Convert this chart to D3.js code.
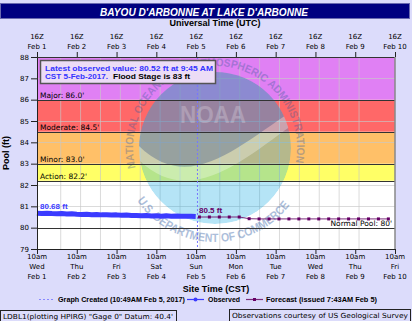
<!DOCTYPE html>
<meta charset="utf-8">
<style>
	body { margin: 0; background: #dcdcfb; }
	svg { display: block; }
	.tick text { font: 7px "DejaVu Sans"; fill: #000; }
	.lab { font: 7px "DejaVu Sans"; fill: #000; }
	.bold { font-family: "Liberation Sans"; font-weight: bold; }
	.grid line { stroke: rgba(200,200,200,0.65); stroke-width: 1; }
</style>
<body>
<script src="https://cdn.jsdelivr.net/npm/d3@7"></script>
<script>
var width = 412, height = 321;
var margin = {top: 57, right: 17, bottom: 72, left: 37};

var parse = d3.utcParse("%Y-%m-%d %H:%M");

// flood categories
var stageNames = ["Action", "Minor", "Moderate", "Major"];
var stageLevels = [82.2, 83.0, 84.5, 86.0];
var normalPool = 80;

// axis labels (CST site time below, UTC above)
var dayStart = ["2017-02-01 10:00", "2017-02-02 10:00", "2017-02-03 10:00", "2017-02-04 10:00", "2017-02-05 10:00",
                "2017-02-06 10:00", "2017-02-07 10:00", "2017-02-08 10:00", "2017-02-09 10:00", "2017-02-10 10:00"];
var weekDays = ["Wed", "Thu", "Fri", "Sat", "Sun", "Mon", "Tue", "Wed", "Thu", "Fri"];
var dayLabels = ["Feb 1", "Feb 2", "Feb 3", "Feb 4", "Feb 5", "Feb 6", "Feb 7", "Feb 8", "Feb 9", "Feb 10"];
var yTicks = [79, 80, 81, 82, 83, 84, 85, 86, 87, 88];

// observed (CST)
var obsTime = ["2017-02-01 10:00", "2017-02-01 13:00", "2017-02-01 16:00", "2017-02-01 19:00", "2017-02-01 22:00",
               "2017-02-02 01:00", "2017-02-02 04:00", "2017-02-02 07:00", "2017-02-02 10:00", "2017-02-02 13:00",
               "2017-02-02 16:00", "2017-02-02 19:00", "2017-02-02 22:00", "2017-02-03 01:00", "2017-02-03 04:00",
               "2017-02-03 07:00", "2017-02-03 10:00", "2017-02-03 13:00", "2017-02-03 16:00", "2017-02-03 19:00",
               "2017-02-03 22:00", "2017-02-04 01:00", "2017-02-04 04:00", "2017-02-04 07:00", "2017-02-04 10:00",
               "2017-02-04 13:00", "2017-02-04 16:00", "2017-02-04 19:00", "2017-02-04 22:00", "2017-02-05 01:00",
               "2017-02-05 04:00", "2017-02-05 07:00", "2017-02-05 09:45"];
var obsStage = [80.68, 80.66, 80.68, 80.66, 80.65, 80.66, 80.64, 80.65, 80.63, 80.62,
                80.63, 80.61, 80.62, 80.60, 80.61, 80.59, 80.60, 80.58, 80.59, 80.57,
                80.57, 80.56, 80.57, 80.55, 80.56, 80.54, 80.56, 80.54, 80.55, 80.53,
                80.54, 80.53, 80.52];

// forecast (CST)
var fcstTime = ["2017-02-05 12:00", "2017-02-05 18:00", "2017-02-06 00:00", "2017-02-06 06:00", "2017-02-06 12:00",
                "2017-02-06 18:00", "2017-02-07 00:00", "2017-02-07 06:00", "2017-02-07 12:00", "2017-02-07 18:00",
                "2017-02-08 00:00", "2017-02-08 06:00", "2017-02-08 12:00", "2017-02-08 18:00", "2017-02-09 00:00",
                "2017-02-09 06:00", "2017-02-09 12:00", "2017-02-09 18:00", "2017-02-10 00:00", "2017-02-10 06:00"];
var fcstStage = [80.5, 80.5, 80.5, 80.5, 80.5, 80.42, 80.41, 80.41, 80.41, 80.41,
                 80.41, 80.41, 80.41, 80.41, 80.41, 80.41, 80.41, 80.41, 80.41, 80.41];

var createdTime = "2017-02-05 10:49";

var bandColors = ["#ffff66", "#ffc068", "#ff6868", "#e080f4"];

var x = d3.scaleUtc()
    .domain([parse(dayStart[0]), parse(dayStart[9])])
    .range([margin.left, width - margin.right]);
var y = d3.scaleLinear()
    .domain([79, 88])
    .range([height - margin.bottom, margin.top]);

var svg = d3.select("body").append("svg")
    .attr("width", width)
    .attr("height", height);

// title bar
svg.append("rect")
    .attr("x", 0.5).attr("y", 3.5).attr("width", 409).attr("height", 15)
    .attr("fill", "#000080").attr("stroke", "#6a6ab0");
svg.append("text")
    .attr("x", 204).attr("y", 15.5)
    .attr("text-anchor", "middle")
    .attr("class", "bold")
    .style("font-size", "11px").style("font-style", "italic")
    .attr("fill", "#fff")
    .attr("textLength", 208).attr("lengthAdjust", "spacingAndGlyphs")
    .text("BAYOU D'ARBONNE AT LAKE D'ARBONNE");
svg.append("text")
    .attr("x", 215).attr("y", 26)
    .attr("text-anchor", "middle").attr("class", "bold")
    .style("font-size", "9px")
    .text("Universal Time (UTC)");

// plot background + flood bands
var x0 = x.range()[0], x1 = x.range()[1];
svg.append("rect")
    .attr("x", x0).attr("y", y(88)).attr("width", x1 - x0).attr("height", y(79) - y(88))
    .attr("fill", "#fff");
var bandTops = stageLevels.slice(1).concat([88]);
svg.append("g").selectAll("rect").data(stageLevels)
  .enter().append("rect")
    .attr("x", x0)
    .attr("y", function(d, i) { return y(bandTops[i]); })
    .attr("width", x1 - x0)
    .attr("height", function(d, i) { return y(d) - y(bandTops[i]); })
    .attr("fill", function(d, i) { return bandColors[i]; });

// grid
var halfDays = d3.utcHour.every(12).range(parse(dayStart[0]), d3.utcHour.offset(parse(dayStart[9]), 1));
svg.append("g").attr("class", "grid")
  .selectAll("line.v").data(halfDays.slice(1, -1))
  .enter().append("line")
    .attr("x1", function(d) { return x(d) + 0.5; }).attr("x2", function(d) { return x(d) + 0.5; })
    .attr("y1", y(88)).attr("y2", y(79));
svg.append("g").attr("class", "grid")
  .selectAll("line.h").data(yTicks.slice(1, -1))
  .enter().append("line")
    .attr("x1", x0).attr("x2", x1)
    .attr("y1", function(d) { return Math.round(y(d)) + 0.5; })
    .attr("y2", function(d) { return Math.round(y(d)) + 0.5; });

// NOAA watermark
var cx = 215, cy = 148, r = 76;
var defs = svg.append("defs");
defs.append("clipPath").attr("id", "disk")
  .append("circle").attr("cx", cx).attr("cy", cy).attr("r", r);
var logo = svg.append("g").attr("clip-path", "url(#disk)");
logo.append("circle").attr("cx", cx).attr("cy", cy).attr("r", r)
    .attr("fill", "#0aa4e0").attr("opacity", 0.3);
logo.append("path")
    .attr("d", "M" + (cx - r) + "," + (cy + 12) +
      " C" + (cx - 25) + "," + (cy + 62) + " " + (cx + 30) + "," + (cy + 10) + " " + (cx + r) + "," + (cy - 22) +
      " L" + (cx + r) + "," + (cy - r) + " L" + (cx - r) + "," + (cy - r) + "Z")
    .attr("fill", "#ffffff").attr("opacity", 0.3);
logo.append("path")
    .attr("d", "M" + (cx - r) + "," + (cy - 2) +
      " C" + (cx - 25) + "," + (cy + 48) + " " + (cx + 25) + "," + (cy - 4) + " " + (cx + r) + "," + (cy - 36) +
      " L" + (cx + r) + "," + (cy - r) + " L" + (cx - r) + "," + (cy - r) + "Z")
    .attr("fill", "#13307a").attr("opacity", 0.28);
svg.append("text")
    .attr("x", cx - 2).attr("y", 123)
    .attr("text-anchor", "middle").attr("class", "bold")
    .style("font-size", "23px")
    .attr("fill", "#fff").attr("opacity", 0.22)
    .attr("textLength", 66).attr("lengthAdjust", "spacingAndGlyphs")
    .text("NOAA");

function arcPt(rad, deg) {
  var a = deg * Math.PI / 180;
  return [cx + rad * Math.cos(a), cy + rad * Math.sin(a)];
}
var rt = 82, pa = arcPt(rt, 166), pb = arcPt(rt, 374);
defs.append("path").attr("id", "ringTop")
    .attr("d", "M" + pa + " A" + rt + "," + rt + " 0 1 1 " + pb);
var rb = 94, pc = arcPt(rb, 146), pd = arcPt(rb, 35);
defs.append("path").attr("id", "ringBot")
    .attr("d", "M" + pc + " A" + rb + "," + rb + " 0 0 0 " + pd);
svg.append("text").attr("class", "bold")
    .style("font-size", "11px").attr("fill", "#3a5a9a").attr("opacity", 0.35)
  .append("textPath").attr("href", "#ringTop")
    .attr("textLength", 292).attr("lengthAdjust", "spacingAndGlyphs")
    .text("NATIONAL OCEANIC AND ATMOSPHERIC ADMINISTRATION");
svg.append("text").attr("class", "bold")
    .style("font-size", "12px").attr("fill", "#3a66a8").attr("opacity", 0.42)
  .append("textPath").attr("href", "#ringBot")
    .attr("textLength", 178).attr("lengthAdjust", "spacingAndGlyphs")
    .text("U.S. DEPARTMENT OF COMMERCE");

// stage lines
svg.append("g").selectAll("line").data(stageLevels.concat([normalPool]))
  .enter().append("line")
    .attr("x1", x0).attr("x2", x1)
    .attr("y1", function(d) { return Math.round(y(d)) + 0.5; })
    .attr("y2", function(d) { return Math.round(y(d)) + 0.5; })
    .attr("stroke", "#333").attr("stroke-width", 1);
svg.append("g").selectAll("text").data(stageLevels)
  .enter().append("text")
    .attr("class", "lab").style("font-size", "7.5px")
    .attr("x", 40)
    .attr("y", function(d) { return y(d) - 2; })
    .text(function(d, i) { return stageNames[i] + ": " + d.toFixed(1) + "'"; });
svg.append("text")
    .attr("class", "lab").style("font-size", "7.5px")
    .attr("x", 392).attr("y", y(normalPool) - 2)
    .attr("text-anchor", "end")
    .text("Normal Pool: 80'");

// graph created line
svg.append("line")
    .attr("x1", x(parse(createdTime))).attr("x2", x(parse(createdTime)))
    .attr("y1", y(88)).attr("y2", y(79))
    .attr("stroke", "#7777ff").attr("stroke-width", 1).attr("stroke-dasharray", "2,2");

// observed
svg.append("path")
    .attr("d", d3.line()
      .x(function(d) { return x(parse(d)); })
      .y(function(d, i) { return y(obsStage[i]); })(obsTime))
    .attr("fill", "none").attr("stroke", "#3b3bff").attr("stroke-width", 5)
    .attr("stroke-linejoin", "round");
svg.append("text").attr("class", "bold")
    .style("font-size", "8px").attr("fill", "#3b3bff")
    .attr("x", 40).attr("y", y(obsStage[0]) - 4)
    .text(obsStage[0].toFixed(2) + " ft");

// forecast
svg.append("path")
    .attr("d", d3.line()
      .x(function(d) { return x(parse(d)); })
      .y(function(d, i) { return y(fcstStage[i]); })(fcstTime))
    .attr("fill", "none").attr("stroke", "#7a2a7a").attr("stroke-width", 1);
svg.append("g").selectAll("rect").data(fcstTime)
  .enter().append("rect")
    .attr("x", function(d) { return x(parse(d)) - 1.5; })
    .attr("y", function(d, i) { return y(fcstStage[i]) - 1.5; })
    .attr("width", 3).attr("height", 3)
    .attr("fill", "#660066");
svg.append("text").attr("class", "bold")
    .style("font-size", "8px").attr("fill", "#660066")
    .attr("x", 199).attr("y", y(fcstStage[0]) - 4)
    .text(fcstStage[0].toFixed(1) + " ft");

// axes
var days = dayStart.map(parse);
var nights = halfDays.filter(function(d) { return d.getUTCHours() === 22; });
svg.append("g")
    .attr("transform", "translate(0," + y(79) + ")")
    .call(d3.axisBottom(x).tickValues(days).tickSize(5).tickFormat(""))
    .call(function(g) { g.select(".domain").remove(); });
svg.append("g")
    .attr("transform", "translate(0," + y(79) + ")")
    .call(d3.axisBottom(x).tickValues(nights).tickSize(3).tickFormat(""))
    .call(function(g) { g.select(".domain").remove(); });
svg.append("g")
    .attr("transform", "translate(0," + y(88) + ")")
    .call(d3.axisTop(x).tickValues(days).tickSize(5).tickFormat(""))
    .call(function(g) { g.select(".domain").remove(); });
svg.append("g")
    .attr("transform", "translate(0," + y(88) + ")")
    .call(d3.axisTop(x).tickValues(nights).tickSize(3).tickFormat(""))
    .call(function(g) { g.select(".domain").remove(); });
svg.append("g")
    .attr("transform", "translate(" + x0 + ",0)")
    .call(d3.axisLeft(y).tickValues(yTicks).tickSize(6).tickPadding(2))
    .call(function(g) { g.select(".domain").remove(); });
svg.selectAll(".tick line").attr("stroke", "#222");

var bl = svg.append("g").selectAll("text").data(days).enter();
bl.append("text").attr("class", "lab").attr("text-anchor", "middle")
    .attr("x", function(d) { return x(d); }).attr("y", 259).text("10am");
bl.append("text").attr("class", "lab").attr("text-anchor", "middle")
    .attr("x", function(d) { return x(d); }).attr("y", 269).text(function(d, i) { return weekDays[i]; });
bl.append("text").attr("class", "lab").attr("text-anchor", "middle")
    .attr("x", function(d) { return x(d); }).attr("y", 279).text(function(d, i) { return dayLabels[i]; });
bl.append("text").attr("class", "lab").attr("text-anchor", "middle")
    .attr("x", function(d) { return x(d); }).attr("y", 39).text(function(d) { return (d.getUTCHours() + 6) + "Z"; });
bl.append("text").attr("class", "lab").attr("text-anchor", "middle")
    .attr("x", function(d) { return x(d); }).attr("y", 49).text(function(d, i) { return dayLabels[i]; });

// frame
svg.append("path")
    .attr("d", "M" + (x0 + 0.5) + "," + y(88) + "V" + (y(79) + 0.5) + "H" + x1)
    .attr("fill", "none").attr("stroke", "#222");
svg.append("line")
    .attr("x1", x0).attr("x2", x1).attr("y1", y(88) + 0.5).attr("y2", y(88) + 0.5)
    .attr("stroke", "#333");
svg.append("line")
    .attr("x1", x1).attr("x2", x1).attr("y1", y(88)).attr("y2", y(79))
    .attr("stroke", "#888").attr("stroke-width", 1.5);

svg.append("text").attr("class", "bold")
    .style("font-size", "9px")
    .attr("transform", "translate(9," + y(83.5) + ") rotate(-90)")
    .attr("text-anchor", "middle")
    .text("Pool (ft)");
svg.append("text").attr("class", "bold")
    .style("font-size", "9px")
    .attr("x", 216).attr("y", 292).attr("text-anchor", "middle")
    .text("Site Time (CST)");

// info box
svg.append("rect")
    .attr("x", 40.5).attr("y", 60.5).attr("width", 175).attr("height", 23)
    .attr("fill", "#ecdcf6").attr("stroke", "#555").attr("stroke-width", 1.5);
svg.append("text").attr("class", "bold").style("font-size", "8px").attr("fill", "#3333ff")
    .attr("x", 45).attr("y", 70.5)
    .attr("textLength", 168).attr("lengthAdjust", "spacingAndGlyphs")
    .text("Latest observed value: " + obsStage[obsStage.length - 1] + " ft at 9:45 AM");
svg.append("text").attr("class", "bold").style("font-size", "8px").attr("fill", "#3333ff")
    .attr("x", 45).attr("y", 79)
    .attr("textLength", 63).attr("lengthAdjust", "spacingAndGlyphs")
    .text("CST 5-Feb-2017.");
svg.append("text").attr("class", "bold").style("font-size", "8px").attr("fill", "#000")
    .attr("x", 113).attr("y", 79)
    .attr("textLength", 77).attr("lengthAdjust", "spacingAndGlyphs")
    .text("Flood Stage is " + stageLevels[1].toFixed(0) + " ft");

// legend
var ly = 299.5;
svg.append("line").attr("x1", 39).attr("x2", 53).attr("y1", ly).attr("y2", ly)
    .attr("stroke", "#8888ff").attr("stroke-dasharray", "2,2");
svg.append("text").attr("class", "bold").style("font-size", "7.5px")
    .attr("x", 58).attr("y", ly + 2.5)
    .attr("textLength", 127).attr("lengthAdjust", "spacingAndGlyphs")
    .text("Graph Created (10:49AM Feb 5, 2017)");
svg.append("line").attr("x1", 187).attr("x2", 204).attr("y1", ly).attr("y2", ly)
    .attr("stroke", "#3b3bff").attr("stroke-width", 1.2);
svg.append("circle").attr("cx", 195.5).attr("cy", ly).attr("r", 2).attr("fill", "#3b3bff");
svg.append("text").attr("class", "bold").style("font-size", "7.5px")
    .attr("x", 208).attr("y", ly + 2.5)
    .attr("textLength", 32).attr("lengthAdjust", "spacingAndGlyphs")
    .text("Observed");
svg.append("line").attr("x1", 246).attr("x2", 263).attr("y1", ly).attr("y2", ly)
    .attr("stroke", "#7a2a7a").attr("stroke-width", 1.2);
svg.append("rect").attr("x", 253).attr("y", ly - 1.5).attr("width", 3).attr("height", 3).attr("fill", "#660066");
svg.append("text").attr("class", "bold").style("font-size", "7.5px")
    .attr("x", 266).attr("y", ly + 2.5)
    .attr("textLength", 111).attr("lengthAdjust", "spacingAndGlyphs")
    .text("Forecast (issued 7:43AM Feb 5)");

// footer boxes
svg.append("rect").attr("x", 0.5).attr("y", 310.5).attr("width", 176).attr("height", 14)
    .attr("fill", "none").attr("stroke", "#222");
svg.append("text").attr("class", "lab")
    .attr("x", 3).attr("y", 319)
    .attr("textLength", 170).attr("lengthAdjust", "spacingAndGlyphs")
    .text("LDBL1(plotting HPIRG) \"Gage 0\" Datum: 40.4'");
svg.append("rect").attr("x", 229.5).attr("y", 309.5).attr("width", 181).attr("height", 14)
    .attr("fill", "none").attr("stroke", "#222");
svg.append("text").attr("class", "lab")
    .attr("x", 232).attr("y", 318)
    .attr("textLength", 176).attr("lengthAdjust", "spacingAndGlyphs")
    .text("Observations courtesy of US Geological Survey");
</script>
</body>
